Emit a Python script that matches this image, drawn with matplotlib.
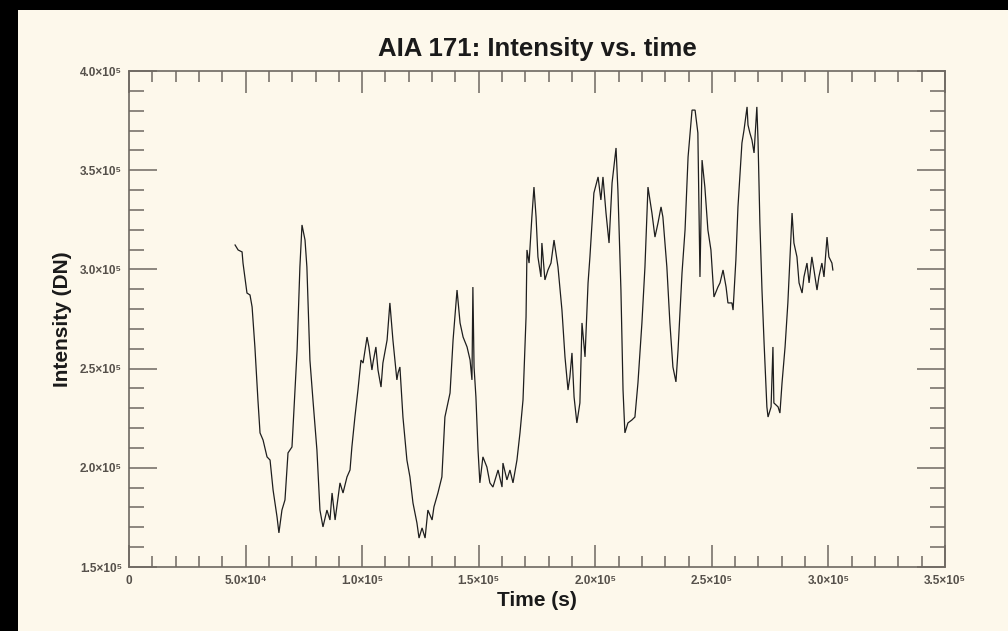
import matplotlib
matplotlib.use("Agg")
import matplotlib.pyplot as plt
from matplotlib.ticker import MultipleLocator, FixedLocator, FixedFormatter
from matplotlib.patches import Rectangle

# ---- data ----
time_s = [
    45500, 46800, 48500, 48900, 50600, 51900, 52800, 54000, 55300, 56200,
    57500, 59200, 60500, 61800, 63500, 64300, 65600, 66900, 68200, 69900,
    70300, 72100, 73300, 74200, 75500, 76300, 77600, 78900, 80600, 81900,
    83200, 84900, 86200, 87100, 88400, 90500, 91800, 93500, 94800, 95600,
    96900, 98200, 99500, 100400, 102100, 102900, 104200, 104700, 105900, 106800,
    108100, 108900, 110700, 111900, 113200, 114900, 115400, 116200, 117500, 119200,
    120500, 121800, 123500, 124400, 125700, 127000, 128200, 130000, 130800, 132500,
    134200, 135500, 137700, 139000, 140700, 142000, 143300, 145000, 146300, 147100,
    147500, 148000, 148800, 149700, 150500, 151800, 153500, 154800, 156100, 158300,
    160000, 160400, 162100, 163400, 164700, 166400, 167700, 169000, 170300, 170700,
    171600, 172800, 173700, 174600, 175400, 176700, 177100, 178400, 179700, 181000,
    182300, 184000, 185700, 187000, 188300, 189100, 190000, 190900, 192100, 193400,
    194300, 195600, 196900, 197700, 199400, 201200, 202400, 203300, 204600, 205900,
    207200, 208900, 209700, 211000, 211900, 212700, 214000, 215700, 217000, 218300,
    220000, 221300, 222600, 224300, 225600, 226900, 228200, 229000, 230700, 232000,
    233300, 234600, 235500, 237200, 238500, 239800, 241500, 242800, 244000, 244900,
    245800, 247000, 248300, 249600, 250900, 252600, 253500, 254800, 256100, 256900,
    258600, 259100, 260300, 261200, 262900, 263800, 265100, 265500, 266300, 267200,
    268100, 269300, 269800, 270600, 271500, 272400, 273600, 274100, 275400, 276200,
    276600, 278400, 279200, 280100, 281400, 282600, 283500, 284400, 285200, 286500,
    287400, 288700, 289500, 290800, 291700, 292900, 293800, 295100, 295900, 297200,
    298100, 299400, 300200, 301500, 301900,
]
intensity_dn = [
    312300, 309800, 308800, 303200, 288100, 287100, 281100, 260900, 234200, 217600,
    214000, 205500, 203900, 188800, 175200, 167200, 178700, 183800, 207500, 210500,
    219100, 259400, 301200, 322400, 314800, 301200, 254300, 234200, 209000, 178700,
    170200, 178700, 173700, 187300, 173700, 192400, 187300, 195400, 198900, 210500,
    225600, 239200, 254300, 252800, 265900, 260900, 249300, 253300, 260900, 249300,
    240700, 252800, 264400, 283100, 264400, 244300, 247800, 250800, 225600, 203900,
    195400, 182300, 172200, 164600, 169700, 164600, 178700, 173700, 180300, 187300,
    195400, 225600, 237700, 264400, 289600, 273000, 265900, 260900, 254300, 244300,
    291100, 250800, 235700, 209000, 192400, 205500, 200400, 192400, 190300, 198900,
    190300, 202400, 193900, 198900, 192400, 203900, 217600, 234200, 276000, 309800,
    303200, 326400, 341500, 326400, 306300, 296200, 313300, 294700, 299700, 303200,
    314800, 301200, 279500, 255900, 239200, 245800, 257900, 235700, 222600, 232700,
    273000, 255900, 293200, 306300, 338500, 346600, 335000, 346600, 328400, 313300,
    343600, 361200, 340000, 289600, 239200, 217600, 222600, 224100, 225600, 242800,
    273000, 301200, 341500, 328400, 316300, 323400, 331500, 326400, 301200, 273000,
    250800, 243300, 259400, 298200, 319900, 356700, 380300, 380300, 368800, 296200,
    355100, 341500, 319900, 309800, 286100, 291100, 293200, 299700, 291100, 283100,
    283100, 279500, 304700, 331500, 363700, 370300, 381900, 372800, 368800, 365200,
    358700, 381900, 365200, 323400, 289600, 262900, 230700, 225600, 230700, 260900,
    232700, 230700, 227600, 242800, 260900, 283100, 306300, 328400, 313300, 306300,
    293200, 288100, 296200, 303200, 293200, 306300, 299700, 289600, 296200, 303200,
    296200, 316300, 306300, 303200, 299700,
]

x_tick_values = [0, 50000, 100000, 150000, 200000, 250000, 300000, 350000]
x_tick_labels = ["0", "5.0×10⁴", "1.0×10⁵", "1.5×10⁵", "2.0×10⁵",
                 "2.5×10⁵", "3.0×10⁵", "3.5×10⁵"]
y_tick_values = [150000, 200000, 250000, 300000, 350000, 400000]
y_tick_labels = ["1.5×10⁵", "2.0×10⁵", "2.5×10⁵", "3.0×10⁵", "3.5×10⁵", "4.0×10⁵"]

title_text = "AIA 171: Intensity vs. time"
x_label = "Time (s)"
y_label = "Intensity (DN)"

# ---- styling ----
plt.rcParams["font.family"] = ["Liberation Sans", "DejaVu Sans"]
bg = "#fdf8eb"
axis_col = "#6e6861"
tick_text_col = "#55504a"

W, H = 1008, 631
fig = plt.figure(figsize=(W / 100, H / 100), dpi=100, facecolor=bg)

# black frame strips (left and top)
fig.patches.append(Rectangle((0, 0), 18 / W, 1, transform=fig.transFigure,
                             facecolor="black", edgecolor="none", zorder=0))
fig.patches.append(Rectangle((0, 1 - 10 / H), 1, 10 / H, transform=fig.transFigure,
                             facecolor="black", edgecolor="none", zorder=0))

left, right, top, bottom = 129, 945, 71, 567
ax = fig.add_axes([left / W, 1 - bottom / H, (right - left) / W, (bottom - top) / H])
ax.set_facecolor(bg)

ax.plot(time_s, intensity_dn, color="#1e1e1e", linewidth=0.9, solid_joinstyle="miter")

ax.set_xlim(0, 350000)
ax.set_ylim(150000, 400000)

ax.xaxis.set_major_locator(FixedLocator(x_tick_values))
ax.xaxis.set_major_formatter(FixedFormatter(x_tick_labels))
ax.xaxis.set_minor_locator(MultipleLocator(10000))
ax.yaxis.set_major_locator(FixedLocator(y_tick_values))
ax.yaxis.set_major_formatter(FixedFormatter(y_tick_labels))
ax.yaxis.set_minor_locator(MultipleLocator(10000))

for s in ax.spines.values():
    s.set_color(axis_col)
    s.set_linewidth(1.2)

ax.tick_params(axis="x", which="major", direction="in", length=15.5, width=1.1,
               color=axis_col, top=True, bottom=True, labelsize=8.5,
               labelcolor=tick_text_col, pad=6)
ax.tick_params(axis="x", which="minor", direction="in", length=7.8, width=1.1,
               color=axis_col, top=True, bottom=True)
ax.tick_params(axis="y", which="major", direction="in", length=20, width=1.1,
               color=axis_col, left=True, right=True, labelsize=8.5,
               labelcolor=tick_text_col, pad=5)
ax.tick_params(axis="y", which="minor", direction="in", length=10.5, width=1.1,
               color=axis_col, left=True, right=True)

for lab in ax.get_xticklabels() + ax.get_yticklabels():
    lab.set_fontweight("bold")

ax.set_title(title_text, fontsize=18.5, fontweight="bold", color="#1a1a1a", pad=11)
ax.set_xlabel(x_label, fontsize=15, fontweight="bold", color="#1a1a1a", labelpad=3)
ax.set_ylabel(y_label, fontsize=15, fontweight="bold", color="#1a1a1a", labelpad=6)

fig.savefig("out.png", dpi=100, facecolor=bg)
